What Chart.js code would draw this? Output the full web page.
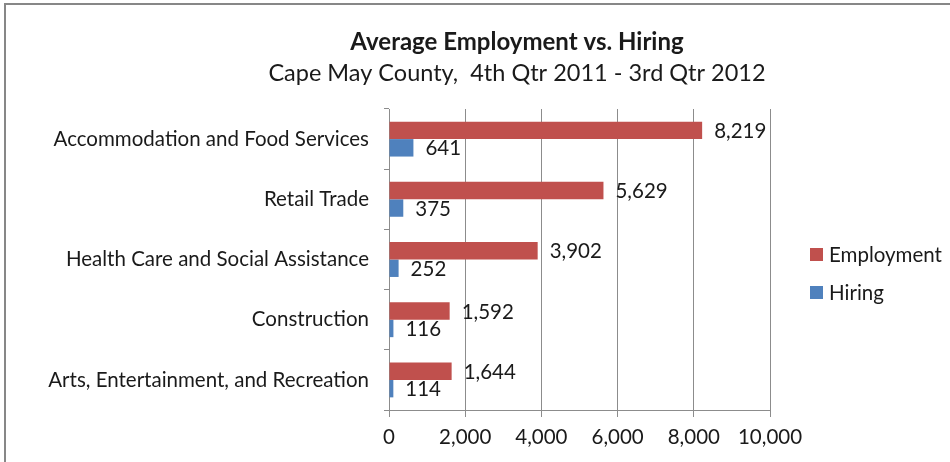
<!DOCTYPE html>
<html>
<head>
<meta charset="utf-8">
<script src="https://cdn.jsdelivr.net/npm/chart.js@4.4.1/dist/chart.umd.min.js"></script>
<style>
  html, body { margin: 0; padding: 0; background: #fff; }
  #wrap { width: 950px; height: 462px; position: relative; }
</style>
</head>
<body>
<div id="wrap"><canvas id="chart" width="950" height="462"></canvas></div>
<script>
const categories = [
  "Accommodation and Food Services",
  "Retail Trade",
  "Health Care and Social Assistance",
  "Construction",
  "Arts, Entertainment, and Recreation",
];
const employment = [8219, 5629, 3902, 1592, 1644];
const hiring = [641, 375, 252, 116, 114];
const xTicks = [0, 2000, 4000, 6000, 8000, 10000];

const FONT = "Lato, 'Open Sans', sans-serif";
const RED = "#C0504D";
const BLUE = "#4F81BD";
const GRID = "#8C8C8C";
const TXT = "#1a1a1a";

// frame, titles, legend and value labels drawn by hand
const extras = {
  id: "extras",
  beforeDraw(chart) {
    const ctx = chart.ctx;
    ctx.save();
    ctx.strokeStyle = "#878787";
    ctx.lineWidth = 2;
    ctx.strokeRect(5, 4, 960, 480);
    ctx.restore();
  },
  afterDatasetsDraw(chart) {
    const ctx = chart.ctx;
    ctx.save();
    ctx.fillStyle = TXT;
    ctx.font = "20.5px " + FONT;
    ctx.textAlign = "left";
    ctx.textBaseline = "middle";
    chart.data.datasets.forEach((ds, i) => {
      chart.getDatasetMeta(i).data.forEach((bar, j) => {
        ctx.fillText(ds.data[j].toLocaleString("en-US"), bar.x + 12, bar.y + 1);
      });
    });

    // titles
    ctx.textAlign = "center";
    ctx.font = "bold 24px " + FONT;
    ctx.fillText("Average Employment vs. Hiring", 517, 42);
    ctx.font = "23.5px " + FONT;
    ctx.fillText("Cape May County,  4th Qtr 2011 - 3rd Qtr 2012", 517, 73);

    // legend
    ctx.textAlign = "left";
    ctx.font = "20.5px " + FONT;
    chart.data.datasets.forEach((ds, i) => {
      const y = 254 + i * 38;
      ctx.fillStyle = ds.backgroundColor;
      ctx.fillRect(810, y - 6, 13, 13);
      ctx.fillStyle = TXT;
      ctx.fillText(ds.label, 829, y + 1);
    });
    ctx.restore();
  },
};

new Chart(document.getElementById("chart").getContext("2d"), {
  type: "bar",
  data: {
    labels: categories,
    datasets: [
      { label: "Employment", data: employment, backgroundColor: RED },
      { label: "Hiring", data: hiring, backgroundColor: BLUE },
    ],
  },
  options: {
    indexAxis: "y",
    responsive: false,
    animation: false,
    events: [],
    layout: { padding: { top: 109, right: 180, left: 0, bottom: 0 } },
    datasets: {
      bar: { categoryPercentage: 0.58, barPercentage: 1 },
    },
    scales: {
      x: {
        min: 0,
        max: 10000,
        afterBuildTicks: (scale) => {
          scale.ticks = xTicks.map(v => ({ value: v }));
        },
        afterFit: (scale) => { scale.height = 52; },
        grid: { color: GRID, tickLength: 7, tickColor: GRID },
        border: { color: GRID },
        ticks: {
          color: TXT,
          font: { family: FONT, size: 20.5 },
          padding: 8,
          maxRotation: 0,
          callback: (v) => Number(v).toLocaleString("en-US"),
        },
      },
      y: {
        afterFit: (scale) => { scale.width = 389; },
        grid: { drawOnChartArea: false, tickLength: 5, tickColor: GRID, offset: true },
        border: { color: GRID },
        ticks: {
          color: TXT,
          font: { family: FONT, size: 20.5 },
          padding: 15,
        },
      },
    },
    plugins: {
      legend: { display: false },
      title: { display: false },
      tooltip: { enabled: false },
    },
  },
  plugins: [extras],
});
</script>
</body>
</html>
